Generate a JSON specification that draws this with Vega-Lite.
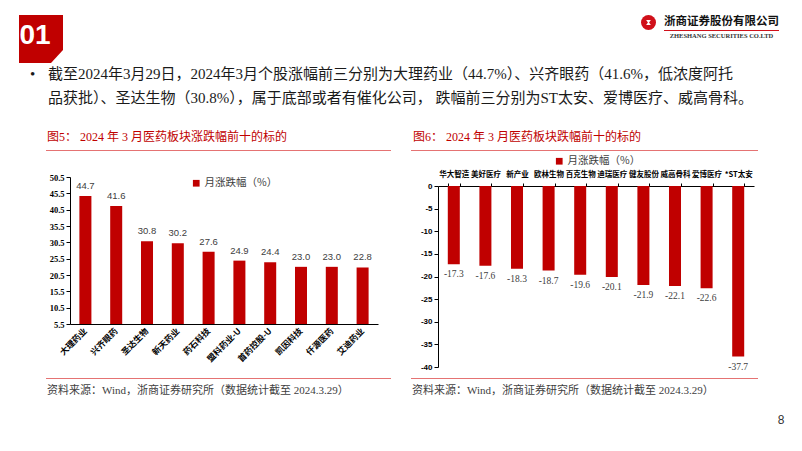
{
  "$schema": "https://vega.github.io/schema/vega-lite/v6.json",
  "padding": {"left": 18, "top": 15, "right": 0, "bottom": 0},
  "background": "white",
  "bounds": "flush",
  "spacing": 0,
  "resolve": {"scale": {"color": "independent"}, "legend": {"color": "independent"}},
  "config": {
    "view": {"stroke": null},
    "locale": {"number": {"decimal": ".", "thousands": ",", "grouping": [3], "currency": ["", ""], "minus": "-"}},
    "axis": {"grid": false, "title": null, "domainColor": "#000", "tickColor": "#000", "labelColor": "#000"},
    "title": {"fontWeight": "normal"}
  },
  "vconcat": [
    {
      "bounds": "flush",
      "spacing": 0,
      "hconcat": [
        {
          "width": 44, "height": 48,
          "data": {"values": [{"t": "01"}]},
          "title": {"text": "•", "orient": "bottom", "anchor": "start", "frame": "group", "dx": 11, "offset": 4, "fontSize": 15, "font": "Liberation Serif", "fontWeight": "normal", "color": "#1a1a1a"},
          "layer": [
            {"mark": {"type": "point", "shape": "M-0.9167,-1L0.9167,-1L0.9167,0.458L0.4167,1L-0.9167,1Z", "size": 2304, "filled": true, "color": "#C00000", "opacity": 1, "strokeWidth": 0}},
            {"mark": {"type": "text", "font": "Liberation Sans Narrow, Liberation Sans", "fontWeight": "bold", "fontSize": 28, "color": "white", "dx": -6, "dy": -3, "align": "center", "baseline": "middle"}, "encoding": {"text": {"field": "t"}}}
          ]
        },
        {
          "width": 570, "height": 48,
          "data": {"values": []},
          "mark": "text",
          "title": {
            "text": ["截至2024年3月29日，2024年3月个股涨幅前三分别为大理药业（44.7%）、兴齐眼药（41.6%，低浓度阿托", "品获批）、圣达生物（30.8%），属于底部或者有催化公司， 跌幅前三分别为ST太安、爱博医疗、威高骨科。"],
            "orient": "bottom", "anchor": "start", "frame": "group", "dx": -15, "offset": 4, "fontSize": 15, "lineHeight": 23.5,
            "font": "Liberation Serif, Noto Sans CJK SC", "fontWeight": "normal", "color": "#1a1a1a"
          }
        },
        {
          "width": 31, "height": 15,
          "data": {"values": [{"a": 1}]},
          "layer": [
            {"mark": {"type": "point", "shape": "circle", "size": 225, "filled": true, "color": "#D0101A", "opacity": 1, "strokeWidth": 0}},
            {"mark": {"type": "point", "shape": "M-0.5,-0.55L0.5,-0.55L0.12,0L0.5,0.55L-0.5,0.55L-0.12,0Z", "size": 90, "filled": true, "color": "white", "opacity": 1, "strokeWidth": 0}}
          ]
        },
        {
          "bounds": "flush",
          "spacing": 0,
          "vconcat": [
            {
              "width": 115, "height": 15,
              "data": {"values": [{"t": "浙商证券股份有限公司"}]},
              "mark": {"type": "text", "font": "Noto Sans CJK SC", "fontWeight": "bold", "fontSize": 11.5, "color": "#111", "dy": -1},
              "encoding": {"text": {"field": "t"}}
            },
            {
              "width": 115, "height": 1,
              "view": {"fill": "#D0101A"},
              "data": {"values": [{"t": "ZHESHANG SECURITIES CO.LTD"}]},
              "mark": {"type": "text", "font": "Liberation Serif", "fontWeight": "bold", "fontSize": 6.5, "color": "#333", "dy": 5.5},
              "encoding": {"text": {"field": "t"}}
            }
          ]
        }
      ]
    },
    {"width": 1, "height": 135, "data": {"values": []}, "mark": "text"},
    {
      "bounds": "flush",
      "spacing": 0,
      "resolve": {"scale": {"color": "independent"}, "legend": {"color": "independent"}},
      "hconcat": [
        {"width": 27, "height": 1, "data": {"values": []}, "mark": "text"},
        {
          "bounds": "flush",
          "spacing": 0,
          "resolve": {"scale": {"color": "independent"}, "legend": {"color": "independent"}},
          "vconcat": [
            {
              "width": 345, "height": 1,
              "view": {"fill": "#E57373"},
              "data": {"values": []},
              "mark": "text",
              "title": {"text": "图5：  2024 年 3 月医药板块涨跌幅前十的标的", "orient": "top", "anchor": "start", "frame": "group", "offset": 6.5, "dx": 1, "fontSize": 12, "font": "Liberation Serif, Noto Sans CJK SC", "fontWeight": "normal", "color": "#C00000"}
            },
            {"width": 1, "height": 26, "data": {"values": []}, "mark": "text"},
            {
              "bounds": "flush",
              "spacing": 0,
              "resolve": {"scale": {"color": "independent"}, "legend": {"color": "independent"}},
              "hconcat": [
                {"width": 24, "height": 1, "data": {"values": []}, "mark": "text"},
                {
                  "width": 308, "height": 147,
                  "data": {"values": [
                    {"name": "大理药业", "v": 44.7},
                    {"name": "兴齐眼药", "v": 41.6},
                    {"name": "圣达生物", "v": 30.8},
                    {"name": "新天药业", "v": 30.2},
                    {"name": "药石科技", "v": 27.6},
                    {"name": "盟科药业-U", "v": 24.9},
                    {"name": "首药控股-U", "v": 24.4},
                    {"name": "凯因科技", "v": 23.0},
                    {"name": "仟源医药", "v": 23.0},
                    {"name": "艾迪药业", "v": 22.8}
                  ]},
                  "encoding": {
                    "x": {"field": "name", "type": "nominal", "sort": null, "scale": {"paddingInner": 0.61, "paddingOuter": 0.305},
                      "axis": {"labelAngle": -45, "labelAlign": "right", "labelBaseline": "middle", "labelFont": "Noto Sans CJK SC", "labelFontWeight": "bold", "labelFontSize": 8.5, "labelColor": "#000", "ticks": false, "labelPadding": 5, "domainColor": "#000", "labelOverlap": false, "labelLimit": 0, "title": null}},
                    "y": {"field": "v", "type": "quantitative", "scale": {"domain": [5.5, 50.5], "zero": false, "nice": false},
                      "axis": {"values": [5.5, 10.5, 15.5, 20.5, 25.5, 30.5, 35.5, 40.5, 45.5, 50.5], "format": ".1f", "labelFont": "Liberation Serif", "labelFontWeight": "bold", "labelFontSize": 8.5, "labelColor": "#000", "tickSize": 4, "labelPadding": 2, "domainColor": "#000", "tickColor": "#000", "grid": false, "title": null}}
                  },
                  "layer": [
                    {"mark": {"type": "bar"}, "encoding": {"y2": {"datum": 5.5}, "color": {"datum": "月涨跌幅（%）", "scale": {"range": ["#C00000"]}, "legend": {"orient": "none", "legendX": 121, "legendY": 1, "title": null, "symbolType": "square", "symbolSize": 45, "labelFont": "Noto Sans CJK SC", "labelFontSize": 10.5, "labelColor": "#404040", "symbolStrokeWidth": 0, "padding": 0, "labelOffset": 3}}}},
                    {"mark": {"type": "text", "dy": -10, "font": "Liberation Sans", "fontSize": 9.5, "color": "#404040"}, "encoding": {"text": {"field": "v", "type": "quantitative", "format": ".1f"}}}
                  ]
                }
              ]
            },
            {"width": 1, "height": 201, "data": {"values": []}, "mark": "text"},
            {
              "width": 345, "height": 1,
              "view": {"fill": "#E57373"},
              "data": {"values": []},
              "mark": "text",
              "title": {"text": "资料来源：Wind，浙商证券研究所（数据统计截至 2024.3.29）", "orient": "bottom", "anchor": "start", "frame": "group", "offset": 6, "dx": 1, "fontSize": 11, "font": "Liberation Serif, Noto Sans CJK SC", "fontWeight": "normal", "color": "#404040"}
            }
          ]
        },
        {"width": 365, "height": 1, "data": {"values": []}, "mark": "text"},
        {
          "bounds": "flush",
          "spacing": 0,
          "resolve": {"scale": {"color": "independent"}, "legend": {"color": "independent"}},
          "vconcat": [
            {
              "width": 347, "height": 1,
              "view": {"fill": "#E57373"},
              "data": {"values": []},
              "mark": "text",
              "title": {"text": "图6：  2024 年 3 月医药板块跌幅前十的标的", "orient": "top", "anchor": "start", "frame": "group", "offset": 6.5, "dx": 2, "fontSize": 12, "font": "Liberation Serif, Noto Sans CJK SC", "fontWeight": "normal", "color": "#C00000"}
            },
            {"width": 1, "height": 35, "data": {"values": []}, "mark": "text"},
            {
              "bounds": "flush",
              "spacing": 0,
              "resolve": {"scale": {"color": "independent"}, "legend": {"color": "independent"}},
              "hconcat": [
                {"width": 27, "height": 1, "data": {"values": []}, "mark": "text"},
                {
                  "width": 316, "height": 181,
                  "data": {"values": [
                    {"name": "华大智造", "v": -17.3},
                    {"name": "美好医疗", "v": -17.6},
                    {"name": "新产业", "v": -18.3},
                    {"name": "欧林生物", "v": -18.7},
                    {"name": "百克生物", "v": -19.6},
                    {"name": "迪瑞医疗", "v": -20.1},
                    {"name": "健友股份", "v": -21.9},
                    {"name": "威高骨科", "v": -22.1},
                    {"name": "爱博医疗", "v": -22.6},
                    {"name": "*ST太安", "v": -37.7}
                  ]},
                  "encoding": {
                    "x": {"field": "name", "type": "nominal", "sort": null, "scale": {"paddingInner": 0.62, "paddingOuter": 0.31},
                      "axis": {"orient": "top", "labelAngle": 0, "labelFont": "Noto Sans CJK SC", "labelFontWeight": "bold", "labelFontSize": 7.5, "labelColor": "#000", "ticks": true, "tickBand": "extent", "tickSize": 3, "tickColor": "#000", "labelPadding": 5, "domainColor": "#000", "labelOverlap": false, "labelLimit": 0, "title": null}},
                    "y": {"field": "v", "type": "quantitative", "scale": {"domain": [-40, 0], "nice": false},
                      "axis": {"values": [0, -5, -10, -15, -20, -25, -30, -35, -40], "format": "d", "labelFont": "Liberation Sans", "labelFontWeight": "bold", "labelFontSize": 8, "labelColor": "#000", "tickSize": 4, "labelPadding": 2, "domainColor": "#000", "tickColor": "#000", "grid": false, "title": null}}
                  },
                  "layer": [
                    {"mark": {"type": "bar"}, "encoding": {"color": {"datum": "月涨跌幅（%）", "scale": {"range": ["#C00000"]}, "legend": {"orient": "none", "legendX": 116, "legendY": -30, "title": null, "symbolType": "square", "symbolSize": 45, "labelFont": "Noto Sans CJK SC", "labelFontSize": 10.5, "labelColor": "#404040", "symbolStrokeWidth": 0, "padding": 0, "labelOffset": 3}}}},
                    {"mark": {"type": "text", "dy": 10, "font": "Liberation Serif", "fontSize": 9.5, "color": "#404040"}, "encoding": {"text": {"field": "v", "type": "quantitative", "format": ".1f"}}}
                  ]
                }
              ]
            },
            {"width": 1, "height": 192, "data": {"values": []}, "mark": "text"},
            {
              "width": 347, "height": 1,
              "view": {"fill": "#E57373"},
              "data": {"values": []},
              "mark": "text",
              "title": {"text": "资料来源：Wind，浙商证券研究所（数据统计截至 2024.3.29）", "orient": "bottom", "anchor": "start", "frame": "group", "offset": 6, "dx": 1, "fontSize": 11, "font": "Liberation Serif, Noto Sans CJK SC", "fontWeight": "normal", "color": "#404040"}
            }
          ]
        },
        {"width": 360, "height": 1, "data": {"values": []}, "mark": "text"},
        {
          "width": 20, "height": 262,
          "data": {"values": []},
          "mark": "text",
          "title": {"text": "8", "orient": "bottom", "anchor": "middle", "frame": "group", "offset": 3, "fontSize": 12, "font": "Liberation Sans", "fontWeight": "normal", "color": "#333"}
        }
      ]
    }
  ]
}
